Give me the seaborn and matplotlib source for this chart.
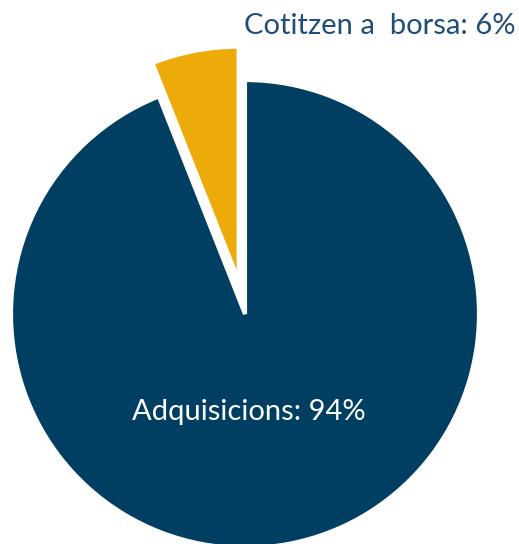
import matplotlib
matplotlib.use("Agg")
import matplotlib.pyplot as plt
import seaborn as sns

categories = ["Cotitzen a  borsa", "Adquisicions"]
shares = [6, 94]
colors = ["#EDAB09", "#003E62"]
explode = [0.145, 0.0]

sns.set_theme(style="white")
plt.rcParams["font.family"] = ["Lato", "DejaVu Sans"]

fig = plt.figure(figsize=(5.19, 5.44), dpi=100)
ax = fig.add_axes([0, 0, 1, 1])

ax.pie(shares, colors=colors, explode=explode, startangle=90,
       counterclock=True, radius=1.0,
       wedgeprops=dict(edgecolor="white", linewidth=3))

# Axes limits chosen so that the pie is centred and partly cut at the bottom
scale = 234.0
ax.set_xlim(-245 / scale, (519 - 245) / scale)
ax.set_ylim(-(544 - 314) / scale, 314 / scale)
ax.set_aspect("equal")
ax.axis("off")

ax.text(0.575, 1.231, f"{categories[0]}: {shares[0]}%", ha="center", va="center",
        fontsize=21, color="#1F4E79")
ax.text(0.017, -0.419, f"{categories[1]}: {shares[1]}%", ha="center", va="center",
        fontsize=21, color="white")

fig.savefig("out.png", dpi=100)
